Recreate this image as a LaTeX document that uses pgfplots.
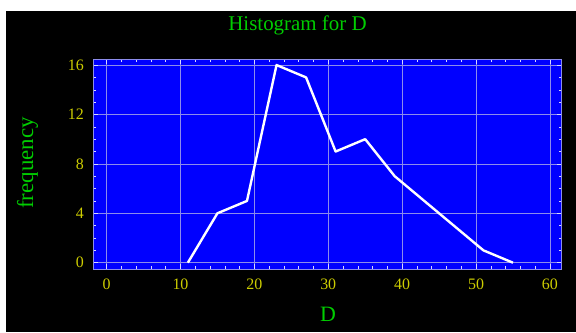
\documentclass[border=0pt]{standalone}
\usepackage{fontspec}
\setmainfont{Liberation Serif}
\usepackage{pgfplots}
\pgfplotsset{compat=1.18}
\definecolor{titlegreen}{RGB}{0,205,0}
\definecolor{ticky}{RGB}{205,205,0}
\definecolor{gridc}{RGB}{140,140,235}
\begin{document}
\begin{tikzpicture}[x=1bp,y=1bp]
\fill[white] (0,0) rectangle (576,332);
\fill[black] (6,0) rectangle (576,321);
\useasboundingbox (0,0) rectangle (576,332);
\begin{axis}[at={(93.3bp,63bp)}, anchor=south west, scale only axis,
  width=468.4bp, height=210bp,
  xmin=-1.8, xmax=61.6, ymin=-0.51, ymax=16.49,
  xtick={0,10,...,60}, ytick={0,4,...,16},
  minor x tick num=4, minor y tick num=3,
  grid=major, major grid style={gridc, line width=0.6pt},
  axis background/.style={fill=blue},
  axis line style={gridc, line width=0.8pt},
  tick style={white!85!blue, line width=0.5pt},
  major tick length=5bp, minor tick length=3bp,
  tick align=inside,
  /pgf/number format/assume math mode=true,
  ticklabel style={font=\rmfamily\fontsize{16}{16}\selectfont, text=ticky},
  xticklabel style={yshift=-6bp},
  yticklabel style={xshift=-6bp},
  title={Histogram for D},
  every axis title/.style={at={(axis description cs:0.436,1.138)}, anchor=base, font=\rmfamily\fontsize{21}{21}\selectfont, text=titlegreen},
  xlabel={D},
  xlabel style={at={(axis description cs:0.501,-0.252)}, anchor=base, font=\rmfamily\fontsize{22}{22}\selectfont, text=titlegreen},
  ylabel={frequency},
  ylabel style={at={(axis description cs:-0.1287,0.505)}, anchor=base, rotate=0, font=\rmfamily\fontsize{23}{23}\selectfont, text=titlegreen},
]
\addplot[white, line width=2.4pt, line join=round] coordinates {
(11,0) (15,4) (19,5) (23,16) (27,15) (31,9) (35,10) (39,7) (43,5) (47,3) (51,1) (55,0)
};
\end{axis}
\end{tikzpicture}
\end{document}
